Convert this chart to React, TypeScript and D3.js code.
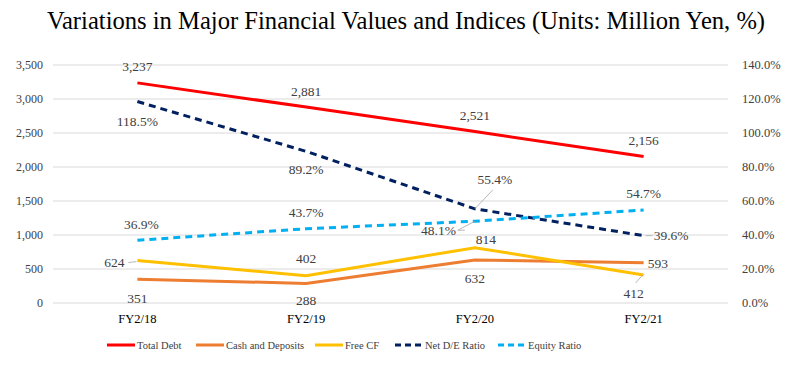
import React from "react";
import * as d3 from "d3";

const categories = ["FY2/18", "FY2/19", "FY2/20", "FY2/21"];
const totalDebt = [3237, 2881, 2521, 2156];
const cashDeposits = [351, 288, 632, 593];
const freeCF = [624, 402, 814, 412];
const netDE = [118.5, 89.2, 55.4, 39.6];
const equityRatio = [36.9, 43.7, 48.1, 54.7];
const leftTicks = [0, 500, 1000, 1500, 2000, 2500, 3000, 3500];
const rightTicks = [0, 20, 40, 60, 80, 100, 120, 140];

type Place = { dx: number; dy: number; anchor?: string; leader?: [number, number][] };

const W = 801;
const H = 365;
const plotL = 53;
const plotR = 728;
const plotT = 65;
const plotB = 303;

const x = d3.scaleBand<string>().domain(categories).range([plotL, plotR]);
const cx = (c: string) => (x(c) as number) + x.bandwidth() / 2;
const yL = d3.scaleLinear().domain([0, 3500]).range([plotB, plotT]);
const yR = d3.scaleLinear().domain([0, 140]).range([plotB, plotT]);

const fmtNum = d3.format(",");
const fmtPct = (v: number) => d3.format(".1f")(v) + "%";

const series = [
  { name: "Total Debt", values: totalDebt, axis: "L", color: "#FF0000", dash: "", fmt: fmtNum,
    places: [{ dx: 0, dy: -17 }, { dx: 0, dy: -16 }, { dx: 0, dy: -16 }, { dx: 0, dy: -16 }] as Place[] },
  { name: "Cash and Deposits", values: cashDeposits, axis: "L", color: "#ED7D31", dash: "", fmt: fmtNum,
    places: [{ dx: 0, dy: 19 }, { dx: 0, dy: 17 }, { dx: 0, dy: 18 }, { dx: 4, dy: 1, anchor: "start" }] as Place[] },
  { name: "Free CF", values: freeCF, axis: "L", color: "#FFC000", dash: "", fmt: fmtNum,
    places: [
      { dx: -13, dy: 2, anchor: "end", leader: [[-9, 2], [-1, 1]] },
      { dx: 0, dy: -17 },
      { dx: 11, dy: -8 },
      { dx: -10, dy: 18, leader: [[-1, 0], [-8, 8]] },
    ] as Place[] },
  { name: "Net D/E Ratio", values: netDE, axis: "R", color: "#002060", dash: "7,5", fmt: fmtPct,
    places: [
      { dx: 0, dy: 20 },
      { dx: 0, dy: 18 },
      { dx: 20, dy: -30, leader: [[0, 0], [18, -19]] },
      { dx: 10, dy: 0, anchor: "start", leader: [[2, 0], [9, 0]] },
    ] as Place[] },
  { name: "Equity Ratio", values: equityRatio, axis: "R", color: "#00B0F0", dash: "7,5", fmt: fmtPct,
    places: [
      { dx: 4, dy: -16 },
      { dx: 0, dy: -16 },
      { dx: -19, dy: 9, anchor: "end", leader: [[-10, 9], [-17, 9], [0, 0]] },
      { dx: 0, dy: -17 },
    ] as Place[] },
];

const legendX = [107, 196, 315, 395, 498];

export default function App() {
  const font = '"Liberation Serif", "Times New Roman", Times, serif';
  return (
    <svg width={W} height={H} style={{ position: "absolute", left: 0, top: 0, background: "#fff", fontFamily: font }}>
      <rect width={W} height={H} fill="#fff" />
      <text x={406} y={29} textAnchor="middle" fontSize={24.6} fill="#000">
        Variations in Major Financial Values and Indices (Units: Million Yen, %)
      </text>
      {leftTicks.map((t) => (
        <g key={t}>
          <line x1={plotL} x2={plotR} y1={yL(t)} y2={yL(t)} stroke="#d9d9d9" strokeWidth={1} />
          <text x={43} y={yL(t)} dy="0.35em" textAnchor="end" fontSize={12} fill="#404040">
            {fmtNum(t)}
          </text>
        </g>
      ))}
      {rightTicks.map((t) => (
        <text key={t} x={742} y={yR(t)} dy="0.35em" textAnchor="start" fontSize={12.5} fill="#404040">
          {d3.format(".1f")(t) + "%"}
        </text>
      ))}
      {categories.map((c) => (
        <text key={c} x={cx(c)} y={319} dy="0.35em" textAnchor="middle" fontSize={12.5} fill="#000">
          {c}
        </text>
      ))}
      {series.map((s) => {
        const yS = s.axis === "L" ? yL : yR;
        const line = d3
          .line<number>()
          .x((_, i) => cx(categories[i]))
          .y((v) => yS(v));
        return (
          <path key={s.name} d={line(s.values) as string} fill="none" stroke={s.color} strokeWidth={3}
            strokeDasharray={s.dash || undefined} />
        );
      })}
      {series.map((s) => {
        const yS = s.axis === "L" ? yL : yR;
        return s.values.map((v, i) => {
          const px = cx(categories[i]);
          const py = yS(v);
          const p = s.places[i];
          return (
            <g key={s.name + i}>
              {p.leader && (
                <polyline
                  points={p.leader.map(([a, b]) => `${px + a},${py + b}`).join(" ")}
                  fill="none" stroke="#a6a6a6" strokeWidth={0.8} />
              )}
              <text x={px + p.dx} y={py + p.dy} dy="0.35em" textAnchor={p.anchor || "middle"} fontSize={13.5} fill="#404040">
                {s.fmt(v)}
              </text>
            </g>
          );
        });
      })}
      {series.map((s, i) => (
        <g key={"lg" + s.name}>
          <line x1={legendX[i]} x2={legendX[i] + 28} y1={345} y2={345} stroke={s.color} strokeWidth={3}
            strokeDasharray={s.dash ? "6,4" : undefined} />
          <text x={legendX[i] + 30} y={345} dy="0.35em" fontSize={10.5} fill="#404040">
            {s.name}
          </text>
        </g>
      ))}
    </svg>
  );
}
